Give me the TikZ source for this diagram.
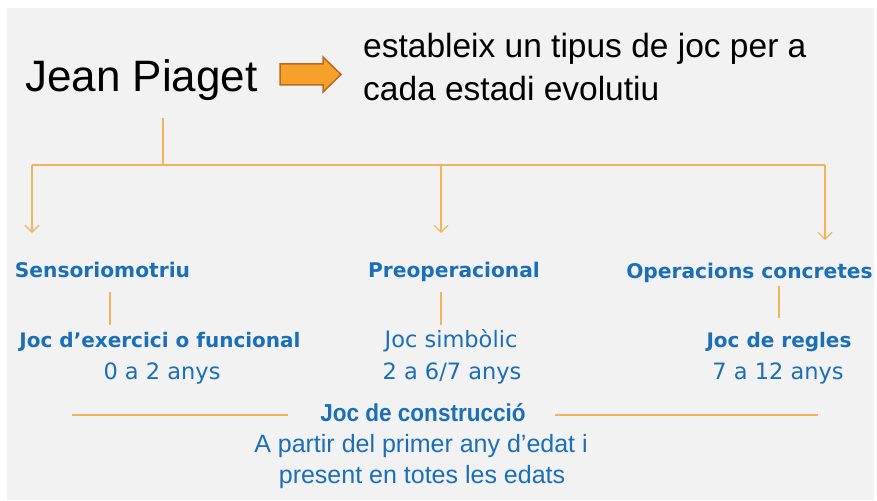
\documentclass[tikz,border=0pt]{standalone}
\usepackage{fontspec}
\setmainfont{Liberation Sans}
\newfontfamily\headfont{DejaVu Sans}
\newfontfamily\condfont[FakeStretch=0.92]{Liberation Sans}
\usetikzlibrary{arrows.meta}
\definecolor{bgray}{HTML}{F2F2F2}
\definecolor{lineor}{HTML}{F4B25C}
\definecolor{tblue}{HTML}{1A6FB8}
\definecolor{arrfill}{HTML}{F7A12B}
\definecolor{arrdraw}{HTML}{B86A1E}
\tikzset{
  conn/.style={draw=lineor, line width=1.1pt},
  darrow/.style={conn, -{Straight Barb[length=7pt,width=14pt]}},
  stage/.style={text=tblue, font=\headfont\bfseries\fontsize{20.2}{24}\selectfont, inner sep=0pt, anchor=base},
  gamebold/.style={text=tblue, font=\headfont\bfseries\fontsize{20}{24}\selectfont, inner sep=0pt, anchor=base},
  gamereg/.style={text=tblue, font=\headfont\fontsize{22.5}{26}\selectfont, inner sep=0pt, anchor=base},
  agetxt/.style={text=tblue, font=\headfont\fontsize{22.5}{26}\selectfont, inner sep=0pt, anchor=base},
  constr/.style={inner sep=0pt, anchor=base, text=tblue},
}
\begin{document}
\begin{tikzpicture}[x=1pt,y=-1pt]
\useasboundingbox (0,0) rectangle (877,500);
\fill[white] (0,0) rectangle (877,500);
\fill[bgray] (7,8) rectangle (874,500);

% title
\node[inner sep=0pt, anchor=base west, font=\fontsize{44}{50}\selectfont] (jp) at (25,92) {Jean Piaget};
\draw[fill=arrfill, draw=arrdraw, line width=1.5pt, line join=miter]
  (280,64) -- (323,64) -- (323,57) -- (341,74.5) -- (323,92) -- (323,85) -- (280,85) -- cycle;
\node[inner sep=0pt, anchor=base west, font=\fontsize{33.5}{42}\selectfont] (desc) at (363,58) {estableix un tipus de joc per a};
\node[inner sep=0pt, anchor=base west, font=\fontsize{33.5}{42}\selectfont] (desc2) at (363,100) {cada estadi evolutiu};

% tree
\coordinate (top) at (163,118);
\coordinate (mid) at (163,165);
\coordinate (l) at (32,165);
\coordinate (c) at (441,165);
\coordinate (r) at (825,165);
\coordinate (la) at (32,233);
\coordinate (ca) at (441,233);
\coordinate (ra) at (825,240);
\draw[conn] (top) -- (mid);
\draw[conn] (l) -- (r);
\draw[darrow] (l) -- (la);
\draw[darrow] (c) -- (ca);
\draw[darrow] (r) -- (ra);

% stages
\node[stage] (s1) at (102.5,277) {Sensoriomotriu};
\node[stage] (s2) at (454,277) {Preoperacional};
\node[stage] (s3) at (749.5,278) {Operacions concretes};

% games
\node[gamebold] (g1) at (160,347) {Joc d’exercici o funcional};
\node[gamereg] (g2) at (451,347) {Joc simbòlic};
\node[gamebold] (g3) at (779,347) {Joc de regles};
\coordinate (v1a) at (110,292); \coordinate (v1b) at (110,325);
\coordinate (v2a) at (441,292); \coordinate (v2b) at (441,325);
\coordinate (v3a) at (779,286); \coordinate (v3b) at (779,318);
\draw[conn] (v1a) -- (v1b);
\draw[conn] (v2a) -- (v2b);
\draw[conn] (v3a) -- (v3b);

\node[agetxt] (a1) at (162,379) {0 a 2 anys};
\node[agetxt] (a2) at (452,379) {2 a 6/7 anys};
\node[agetxt] (a3) at (778,379) {7 a 12 anys};

% construction
\node[constr, font=\condfont\bfseries\fontsize{24.5}{28}\selectfont] (jc) at (423,421) {Joc de construcció};
\coordinate (h1a) at (72,415); \coordinate (h1b) at (288,415);
\coordinate (h2a) at (555,415); \coordinate (h2b) at (818,415);
\draw[conn] (h1a) -- (h1b);
\draw[conn] (h2a) -- (h2b);
\node[constr, font=\fontsize{25}{28}\selectfont] (jc2) at (421,452) {A partir del primer any d’edat i};
\node[constr, font=\fontsize{25}{28}\selectfont] (jc3) at (422,483) {present en totes les edats};
\end{tikzpicture}
\end{document}
